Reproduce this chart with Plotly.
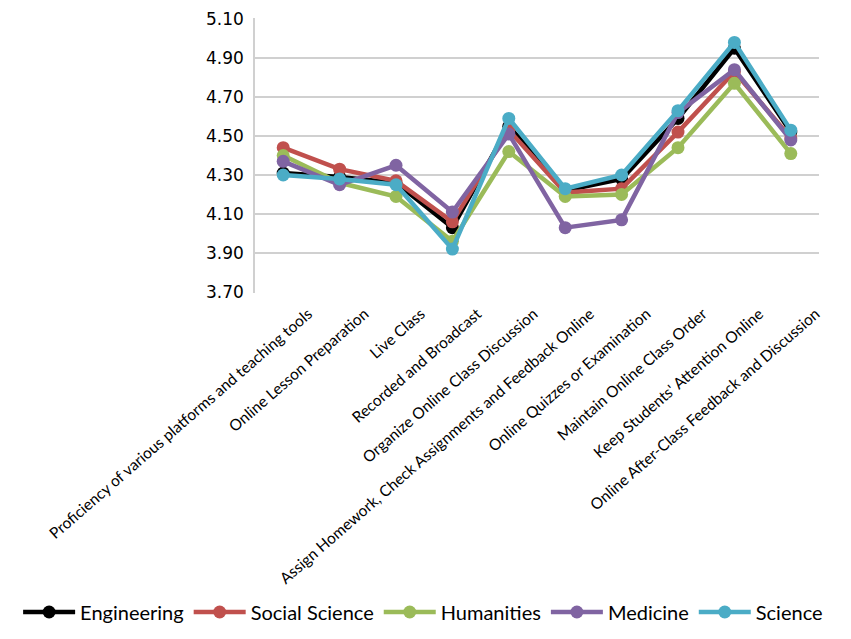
import plotly.graph_objects as go

# categorias del eje x
categorias = [
    "Proficiency of various platforms and teaching tools",
    "Online Lesson Preparation",
    "Live Class",
    "Recorded and Broadcast",
    "Organize Online Class Discussion",
    "Assign Homework, Check Assignments and Feedback Online",
    "Online Quizzes or Examination",
    "Maintain Online Class Order",
    "Keep Students' Attention Online",
    "Online After-Class Feedback and Discussion",
]

# ticks del eje y
y_ticks = [3.70, 3.90, 4.10, 4.30, 4.50, 4.70, 4.90, 5.10]

engineering = [4.31, 4.29, 4.26, 4.03, 4.55, 4.22, 4.28, 4.59, 4.95, 4.52]
social_science = [4.44, 4.33, 4.27, 4.06, 4.53, 4.21, 4.23, 4.52, 4.83, 4.49]
humanities = [4.40, 4.26, 4.19, 3.96, 4.42, 4.19, 4.20, 4.44, 4.77, 4.41]
medicine = [4.37, 4.25, 4.35, 4.11, 4.51, 4.03, 4.07, 4.62, 4.84, 4.48]
science = [4.30, 4.28, 4.25, 3.92, 4.59, 4.23, 4.30, 4.63, 4.98, 4.53]

series = [
    ("Engineering", engineering, "#000000"),
    ("Social Science", social_science, "#C0504D"),
    ("Humanities", humanities, "#9BBB59"),
    ("Medicine", medicine, "#8064A2"),
    ("Science", science, "#4BACC6"),
]

fig = go.Figure()
for nombre, valores, color in series:
    fig.add_trace(go.Scatter(
        x=categorias, y=valores, name=nombre, mode="lines+markers",
        line=dict(color=color, width=4.5),
        marker=dict(color=color, size=13),
    ))

fig.update_layout(
    width=851, height=639,
    margin=dict(l=239, r=40, t=10, b=354),
    paper_bgcolor="white", plot_bgcolor="white",
    font=dict(family="Lato, Open Sans, sans-serif", color="#000000"),
    showlegend=True,
    legend=dict(orientation="h", x=-0.42, xanchor="left", y=-1.16, yanchor="middle",
                font=dict(size=20, family="Lato"), itemwidth=52,
                bgcolor="rgba(0,0,0,0)"),
)
fig.update_xaxes(
    type="category", range=[-0.5, 9.5], tickangle=-41,
    tickfont=dict(size=15.5, family="Lato"), ticklabelshift=25,
    ticklabelstandoff=8,
    showgrid=False, showline=False, ticks="", automargin=False,
)
fig.update_yaxes(
    range=[3.695, 5.105], tickmode="array", tickvals=y_ticks,
    ticktext=["%.2f" % v for v in y_ticks],
    tickfont=dict(size=17, family="DejaVu Sans"), ticklabeloverflow="allow",
    showgrid=True, gridcolor="#D0D0D0", gridwidth=1.5,
    showline=True, linecolor="#D0D0D0", linewidth=1.5,
    zeroline=False, ticks="", automargin=False, ticklabelstandoff=6,
)

fig.write_html("out.html")
